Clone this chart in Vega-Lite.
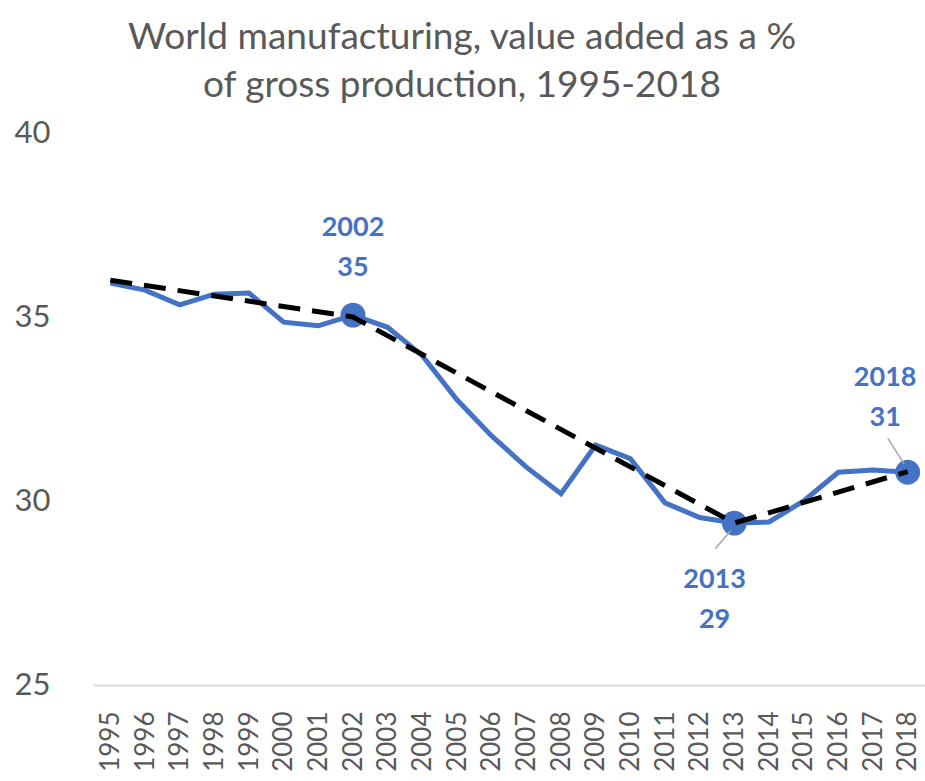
{
  "$schema": "https://vega.github.io/schema/vega-lite/v6.json",
  "width": 832,
  "height": 552,
  "autosize": {"type": "none"},
  "padding": {"left": 93, "top": 133, "right": 0, "bottom": 96},
  "background": "white",
  "config": {"view": {"stroke": null}, "font": "Lato"},
  "title": {
    "text": ["World manufacturing, value added as a %", "of gross production, 1995-2018"],
    "font": "Lato",
    "fontSize": 37,
    "fontWeight": "normal",
    "color": "#595959",
    "lineHeight": 48,
    "anchor": "middle",
    "dx": -47,
    "offset": 12
  },
  "datasets": {
    "series": [
      {"year": 1995, "value": 35.92},
      {"year": 1996, "value": 35.73},
      {"year": 1997, "value": 35.33},
      {"year": 1998, "value": 35.62},
      {"year": 1999, "value": 35.65},
      {"year": 2000, "value": 34.86},
      {"year": 2001, "value": 34.76},
      {"year": 2002, "value": 35.05},
      {"year": 2003, "value": 34.72},
      {"year": 2004, "value": 33.95},
      {"year": 2005, "value": 32.75},
      {"year": 2006, "value": 31.77},
      {"year": 2007, "value": 30.92},
      {"year": 2008, "value": 30.2},
      {"year": 2009, "value": 31.52},
      {"year": 2010, "value": 31.15},
      {"year": 2011, "value": 29.95},
      {"year": 2012, "value": 29.55},
      {"year": 2013, "value": 29.4},
      {"year": 2014, "value": 29.43},
      {"year": 2015, "value": 30.0},
      {"year": 2016, "value": 30.78},
      {"year": 2017, "value": 30.84},
      {"year": 2018, "value": 30.78}
    ],
    "trend": [
      {"year": 1995, "value": 36.0},
      {"year": 2002, "value": 35.0},
      {"year": 2013, "value": 29.4},
      {"year": 2018, "value": 30.8}
    ],
    "highlights": [
      {"year": 2002, "value": 35.05, "label": "2002\n35", "lx": 2002, "ly": 37.42},
      {"year": 2013, "value": 29.4, "label": "2013\n29", "lx": 2012.43, "ly": 27.85},
      {"year": 2018, "value": 30.78, "label": "2018\n31", "lx": 2017.35, "ly": 33.34}
    ],
    "leaders": [
      {"x1": 2012.9, "y1": 29.2, "x2": 2012.45, "y2": 28.7},
      {"x1": 2017.43, "y1": 31.7, "x2": 2017.9, "y2": 31.0}
    ]
  },
  "encoding": {
    "x": {
      "field": "year",
      "type": "quantitative",
      "scale": {"domain": [1994.5, 2018.5], "nice": false, "zero": false},
      "axis": {
        "title": null,
        "values": [1995,1996,1997,1998,1999,2000,2001,2002,2003,2004,2005,2006,2007,2008,2009,2010,2011,2012,2013,2014,2015,2016,2017,2018],
        "format": "d",
        "labelAngle": -90,
        "labelFont": "Lato",
        "labelFontSize": 26,
        "labelColor": "#595959",
        "labelPadding": 26,
        "ticks": false,
        "grid": false,
        "domainColor": "#d9d9d9",
        "domainWidth": 2,
        "labelOverlap": false,
        "labelFlush": false
      }
    },
    "y": {
      "field": "value",
      "type": "quantitative",
      "scale": {"domain": [25, 40], "nice": false, "zero": false},
      "axis": {
        "title": null,
        "values": [25, 30, 35, 40],
        "labelFont": "Lato",
        "labelFontSize": 31,
        "labelColor": "#595959",
        "labelPadding": 43,
        "ticks": false,
        "grid": false,
        "domain": false
      }
    }
  },
  "layer": [
    {
      "data": {"name": "series"},
      "mark": {"type": "line", "color": "#4472C4", "strokeWidth": 5, "strokeJoin": "miter"}
    },
    {
      "data": {"name": "highlights"},
      "mark": {"type": "point", "filled": true, "color": "#4472C4", "size": 620, "opacity": 1}
    },
    {
      "data": {"name": "trend"},
      "mark": {"type": "line", "color": "#000000", "strokeWidth": 5, "strokeDash": [22, 12]}
    },
    {
      "data": {"name": "leaders"},
      "mark": {"type": "rule", "color": "#a6a6a6", "strokeWidth": 1.5},
      "encoding": {
        "x": {"field": "x1", "type": "quantitative"},
        "y": {"field": "y1", "type": "quantitative"},
        "x2": {"field": "x2"},
        "y2": {"field": "y2"}
      }
    },
    {
      "data": {"name": "highlights"},
      "mark": {"type": "text", "font": "Lato", "fontSize": 27, "fontWeight": "bold", "color": "#4472C4", "lineBreak": "\n", "lineHeight": 40, "align": "center", "baseline": "middle"},
      "encoding": {
        "x": {"field": "lx", "type": "quantitative"},
        "y": {"field": "ly", "type": "quantitative"},
        "text": {"field": "label"}
      }
    }
  ]
}
